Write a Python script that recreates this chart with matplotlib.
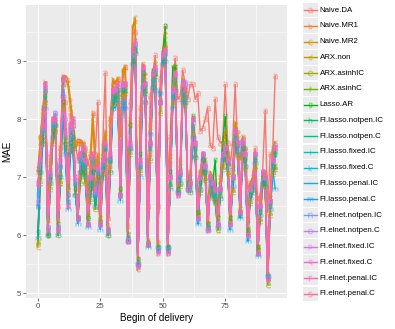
import numpy as np
import matplotlib
matplotlib.use("Agg")
import matplotlib.pyplot as plt
from matplotlib.patches import Rectangle

plt.rcParams['font.family'] = ['Liberation Sans', 'DejaVu Sans']

# begin of delivery (quarter hours)
hours = np.arange(96)

names = ["Naive.DA", "Naive.MR1", "Naive.MR2", "ARX.non", "ARX.asinhIC", "ARX.asinhC",
         "Lasso.AR", "FI.lasso.notpen.IC", "FI.lasso.notpen.C", "FI.lasso.fixed.IC",
         "FI.lasso.fixed.C", "FI.lasso.penal.IC", "FI.lasso.penal.C", "FI.elnet.notpen.IC",
         "FI.elnet.notpen.C", "FI.elnet.fixed.IC", "FI.elnet.fixed.C", "FI.elnet.penal.IC",
         "FI.elnet.penal.C"]

naive_da = [7.15, 7.6, 8.2, 8.5, 6.6, 7.4, 8.0, 7.9, 6.5, 7.5, 8.6, 8.3,
            7.0, 8.1, 7.9, 7.6, 7.3, 7.6, 7.6, 7.5, 7.2, 7.4, 8.1, 7.4,
            8.3, 6.6, 7.6, 8.8, 6.3, 8.0, 8.6, 8.4, 8.7, 7.8, 8.7, 8.9,
            6.9, 8.3, 9.5, 9.5, 5.6, 8.2, 8.9, 8.3, 6.5, 8.4, 8.7, 9.1,
            6.5, 8.7, 9.2, 9.6, 7.0, 7.7, 8.7, 9.05, 8.35, 8.4, 8.85, 8.6,
            8.35, 8.6, 8.6, 8.35, 8.45, 7.8, 7.85, 8.0, 8.2, 7.55, 7.5, 8.35,
            7.7, 7.6, 7.6, 8.6, 7.6, 7.2, 7.6, 8.6, 7.5, 7.3, 7.7, 7.5,
            6.8, 6.9, 7.0, 7.5, 6.6, 6.7, 7.1, 8.15, 6.4, 7.4, 7.4, 8.75]
naive_mr1 = [7.1, 7.7, 8.2, 8.65, 6.3, 7.3, 8.0, 8.0, 6.3, 7.5, 8.75, 8.75,
             8.7, 8.35, 8.0, 7.6, 7.65, 7.65, 7.6, 7.5, 6.7, 7.2, 8.1, 7.2,
             7.4, 6.4, 7.5, 7.8, 6.2, 8.0, 8.7, 8.6, 8.7, 7.8, 8.8, 8.9,
             6.2, 8.0, 9.55, 9.7, 5.45, 8.0, 8.95, 8.8, 5.9, 7.9, 8.8, 9.0,
             5.9, 8.5, 9.15, 9.5, 5.8, 7.4, 8.6, 8.9, 6.8, 7.3, 8.7, 8.5,
             6.9, 7.1, 8.05, 7.6, 6.4, 7.1, 7.4, 7.3, 6.3, 7.1, 7.0, 6.8,
             6.4, 7.0, 7.6, 7.8, 7.4, 6.4, 7.2, 7.95, 7.8, 6.5, 7.7, 7.5,
             6.3, 6.9, 7.0, 7.4, 5.8, 6.6, 7.0, 7.1, 5.35, 6.7, 7.5, 7.6]
naive_mr2 = [5.8, 7.7, 8.1, 8.6, 6.2, 7.2, 8.0, 8.05, 6.2, 7.4, 8.7, 8.7,
             8.6, 8.2, 7.9, 7.5, 7.6, 7.6, 7.55, 7.4, 6.6, 7.1, 8.0, 7.1,
             7.3, 6.3, 7.4, 7.7, 6.1, 7.9, 8.6, 8.65, 8.7, 7.7, 8.85, 8.9,
             6.1, 7.9, 9.6, 9.75, 5.42, 7.9, 8.95, 8.75, 5.85, 7.8, 8.75, 8.95,
             5.85, 8.4, 9.1, 9.45, 5.75, 7.3, 8.55, 8.9, 6.8, 7.2, 8.65, 8.5,
             6.85, 7.0, 8.0, 7.6, 6.35, 7.1, 7.35, 7.3, 6.2, 7.0, 7.0, 6.75,
             6.3, 6.9, 7.55, 7.75, 7.4, 6.3, 7.1, 7.9, 7.75, 6.45, 7.65, 7.45,
             6.2, 6.85, 6.95, 7.35, 5.75, 6.6, 7.0, 7.05, 5.3, 6.65, 7.45, 7.6]
arx_non = [5.9, 7.0, 7.6, 8.3, 6.0, 6.9, 7.7, 7.8, 6.1, 6.9, 8.2, 7.7,
           6.9, 7.5, 7.6, 6.8, 6.3, 7.0, 7.2, 7.0, 6.4, 6.7, 7.0, 6.5,
           7.0, 6.3, 7.1, 7.3, 6.0, 7.2, 8.3, 8.3, 8.4, 6.8, 8.4, 8.5,
           5.95, 7.5, 9.0, 9.2, 5.5, 7.2, 8.7, 8.5, 5.9, 7.4, 8.6, 8.8,
           5.8, 8.2, 9.0, 9.3, 5.8, 6.9, 8.3, 8.6, 6.8, 6.9, 8.4, 8.3,
           6.9, 6.8, 7.8, 7.4, 6.4, 6.8, 7.2, 7.0, 6.2, 6.8, 6.7, 6.6,
           6.1, 6.7, 7.2, 7.4, 7.1, 6.3, 6.8, 7.6, 7.4, 6.4, 7.4, 7.2,
           6.1, 6.6, 6.8, 7.2, 5.8, 6.3, 6.9, 6.9, 5.2, 6.4, 7.1, 7.2]
arx_asinh_ic = [5.85, 6.9, 7.6, 8.3, 6.0, 6.8, 7.6, 7.8, 6.0, 6.9, 8.2, 7.6,
                6.8, 7.4, 7.5, 6.7, 6.3, 6.9, 7.1, 6.9, 6.3, 6.6, 6.9, 6.45,
                6.9, 6.25, 7.0, 7.2, 6.0, 7.1, 8.2, 8.3, 8.4, 6.7, 8.4, 8.45,
                5.9, 7.4, 8.95, 9.15, 5.5, 7.1, 8.65, 8.45, 5.85, 7.3, 8.55, 8.75,
                5.75, 8.1, 8.95, 9.25, 5.75, 6.85, 8.25, 8.55, 6.75, 6.85, 8.35, 8.25,
                6.85, 6.75, 7.75, 7.35, 6.35, 6.75, 7.1, 6.95, 6.15, 6.75, 6.65, 6.55,
                6.1, 6.65, 7.15, 7.35, 7.05, 6.25, 6.75, 7.55, 7.35, 6.35, 7.35, 7.15,
                6.05, 6.55, 6.75, 7.15, 5.75, 6.25, 6.85, 6.85, 5.15, 6.35, 7.05, 7.15]
arx_asinh_c = [5.95, 6.95, 7.65, 8.35, 6.05, 6.85, 7.65, 7.85, 6.05, 6.95, 8.25, 7.65,
               6.85, 7.45, 7.55, 6.75, 6.3, 6.95, 7.15, 6.95, 6.35, 6.65, 6.95, 6.5,
               6.95, 6.3, 7.05, 7.25, 6.05, 7.15, 8.25, 8.35, 8.45, 6.75, 8.45, 8.5,
               5.95, 7.45, 9.0, 9.2, 5.55, 7.15, 8.7, 8.5, 5.9, 7.35, 8.6, 8.8,
               5.8, 8.15, 9.0, 9.3, 5.8, 6.9, 8.3, 8.6, 6.8, 6.9, 8.4, 8.3,
               6.9, 6.8, 7.8, 7.4, 6.4, 6.8, 7.15, 7.0, 6.2, 6.8, 6.7, 6.6,
               6.15, 6.7, 7.2, 7.4, 7.1, 6.3, 6.8, 7.6, 7.4, 6.4, 7.4, 7.2,
               6.1, 6.6, 6.8, 7.2, 5.8, 6.3, 6.9, 6.9, 5.2, 6.4, 7.1, 7.2]
lasso_ar = [6.05, 7.1, 7.7, 8.4, 6.0, 7.0, 7.8, 7.9, 6.2, 7.0, 8.3, 7.5,
            6.7, 7.6, 7.7, 6.8, 6.3, 7.1, 7.3, 7.1, 6.3, 6.8, 7.1, 6.6,
            7.0, 6.2, 7.2, 7.5, 6.1, 7.3, 8.3, 8.4, 8.5, 6.8, 8.5, 8.6,
            6.0, 7.9, 9.0, 9.2, 5.6, 7.4, 8.8, 8.6, 5.85, 7.6, 8.85, 8.8,
            5.8, 8.3, 9.1, 9.6, 5.8, 7.1, 8.9, 8.9, 6.8, 7.1, 8.55, 8.5,
            6.9, 6.9, 8.05, 7.5, 6.4, 6.9, 7.3, 7.1, 6.2, 7.0, 6.9, 7.3,
            6.3, 6.8, 7.6, 8.05, 7.3, 6.3, 7.0, 7.8, 7.6, 6.4, 7.5, 7.3,
            6.1, 6.7, 6.9, 7.3, 5.8, 6.4, 6.9, 7.0, 5.25, 6.5, 7.2, 7.4]
lasso_notpen_ic = [6.5, 7.2, 7.8, 8.5, 6.1, 7.0, 7.9, 8.0, 6.1, 7.1, 8.6, 7.6,
                   6.6, 7.7, 7.8, 6.9, 6.3, 7.3, 7.4, 7.2, 6.2, 6.9, 7.3, 6.7,
                   7.1, 6.2, 7.2, 7.5, 6.1, 7.3, 8.4, 8.35, 8.5, 6.7, 8.5, 8.5,
                   5.9, 7.5, 9.1, 9.25, 5.5, 7.2, 8.8, 8.5, 5.85, 7.5, 8.7, 8.8,
                   5.75, 8.3, 9.05, 9.15, 5.75, 6.9, 8.4, 8.7, 6.75, 7.0, 8.5, 8.4,
                   6.8, 6.85, 7.9, 7.5, 6.3, 6.95, 7.35, 7.15, 6.15, 6.95, 6.85, 6.7,
                   6.2, 6.75, 7.35, 7.45, 7.25, 6.2, 6.95, 7.7, 7.55, 6.35, 7.55, 7.35,
                   6.0, 6.75, 6.85, 7.35, 5.7, 6.45, 7.05, 6.95, 5.3, 6.55, 7.25, 7.45]
lasso_notpen_c = [6.6, 7.25, 7.85, 8.5, 6.15, 7.05, 7.95, 7.95, 6.15, 7.15, 8.6, 7.7,
                  6.7, 7.75, 7.85, 6.95, 6.3, 7.3, 7.45, 7.25, 6.25, 6.95, 7.3, 6.75,
                  7.15, 6.25, 7.25, 7.5, 6.1, 7.3, 8.4, 8.4, 8.45, 6.75, 8.5, 8.5,
                  5.95, 7.5, 9.1, 9.2, 5.5, 7.25, 8.8, 8.55, 5.9, 7.5, 8.7, 8.8,
                  5.75, 8.25, 9.05, 9.15, 5.75, 6.95, 8.45, 8.7, 6.75, 7.0, 8.5, 8.45,
                  6.8, 6.85, 7.95, 7.5, 6.3, 6.95, 7.35, 7.15, 6.15, 6.95, 6.85, 6.75,
                  6.2, 6.75, 7.35, 7.5, 7.25, 6.2, 6.95, 7.75, 7.55, 6.4, 7.55, 7.35,
                  6.0, 6.75, 6.85, 7.35, 5.7, 6.45, 7.05, 6.95, 5.3, 6.55, 7.25, 7.45]
lasso_fixed_ic = [6.8, 7.3, 7.8, 8.4, 6.1, 7.1, 7.9, 8.1, 6.1, 7.2, 8.5, 7.5,
                  6.6, 7.6, 7.7, 6.9, 6.3, 7.3, 7.4, 7.2, 6.2, 6.9, 7.3, 6.7,
                  7.1, 6.2, 7.2, 7.5, 6.1, 7.3, 8.35, 8.35, 8.4, 6.7, 8.3, 8.3,
                  5.95, 7.4, 9.0, 9.2, 5.5, 7.2, 8.7, 8.45, 5.85, 7.5, 8.65, 8.7,
                  5.75, 8.45, 9.0, 9.1, 5.75, 6.9, 8.4, 8.65, 6.75, 7.0, 8.45, 8.4,
                  6.8, 6.85, 7.85, 7.45, 6.25, 6.9, 7.4, 7.2, 6.15, 6.95, 6.8, 6.7,
                  6.2, 6.75, 7.4, 7.5, 7.25, 6.15, 6.95, 7.7, 7.5, 6.35, 7.55, 7.3,
                  5.95, 6.75, 6.85, 7.35, 5.7, 6.45, 7.0, 6.95, 5.3, 6.55, 7.25, 7.4]
lasso_fixed_c = [6.7, 7.3, 7.8, 8.4, 6.1, 7.1, 7.9, 8.05, 6.1, 7.2, 8.5, 7.5,
                 6.6, 7.6, 7.7, 6.9, 6.3, 7.3, 7.4, 7.2, 6.2, 6.9, 7.25, 6.7,
                 7.1, 6.2, 7.2, 7.5, 6.1, 7.3, 8.35, 8.35, 8.4, 6.7, 8.3, 8.3,
                 5.95, 7.8, 9.05, 9.25, 5.5, 7.2, 8.7, 8.45, 5.85, 7.5, 8.65, 8.7,
                 5.75, 8.45, 9.0, 9.1, 5.75, 6.9, 8.4, 8.65, 6.75, 7.0, 8.45, 8.4,
                 6.8, 6.85, 7.85, 7.45, 6.25, 6.9, 7.4, 7.2, 6.15, 6.95, 6.8, 6.7,
                 6.2, 6.75, 7.4, 7.5, 7.25, 6.15, 6.95, 7.7, 7.5, 6.35, 7.55, 7.3,
                 5.95, 6.75, 6.85, 7.35, 5.7, 6.45, 7.0, 6.95, 5.3, 6.55, 7.25, 7.4]
lasso_penal_ic = [6.75, 7.2, 7.7, 8.3, 6.05, 7.0, 7.8, 8.0, 6.05, 7.1, 8.45, 7.4,
                  6.5, 7.5, 7.6, 6.8, 6.25, 7.2, 7.3, 7.1, 6.15, 6.8, 7.2, 6.6,
                  7.0, 6.15, 7.1, 7.4, 6.05, 7.2, 8.3, 8.3, 8.35, 6.65, 8.25, 8.3,
                  5.9, 7.7, 9.0, 9.2, 5.5, 7.1, 8.6, 8.4, 5.85, 7.7, 8.6, 8.6,
                  5.8, 8.45, 9.0, 9.05, 5.8, 6.9, 8.3, 8.6, 6.75, 6.95, 8.4, 8.35,
                  6.8, 6.8, 7.8, 7.4, 6.2, 6.85, 7.35, 7.15, 6.1, 6.9, 6.75, 6.65,
                  6.15, 6.7, 7.35, 7.45, 7.2, 6.1, 6.9, 7.65, 7.45, 6.3, 7.5, 7.25,
                  5.9, 6.7, 6.8, 7.3, 5.65, 6.4, 6.95, 6.9, 5.3, 6.5, 7.2, 7.35]
lasso_penal_c = [5.95, 7.1, 7.6, 8.2, 6.0, 6.9, 7.7, 7.9, 6.0, 7.0, 8.4, 7.4,
                 6.45, 7.4, 7.5, 6.7, 6.2, 7.1, 7.2, 7.0, 6.15, 6.7, 7.1, 6.5,
                 6.9, 6.1, 7.0, 7.3, 6.0, 7.1, 8.2, 8.2, 8.3, 6.6, 8.2, 8.2,
                 5.9, 7.5, 8.95, 9.15, 5.5, 7.0, 8.55, 8.3, 5.8, 7.75, 8.55, 8.5,
                 5.8, 8.45, 8.95, 9.0, 5.8, 6.8, 8.2, 8.5, 6.75, 6.9, 8.3, 8.3,
                 6.8, 6.75, 7.7, 7.35, 6.2, 6.8, 7.3, 7.1, 6.1, 6.85, 6.7, 6.6,
                 6.15, 6.65, 7.3, 7.4, 7.15, 6.1, 6.85, 7.6, 7.4, 6.3, 7.45, 7.2,
                 5.9, 6.65, 6.75, 7.25, 5.65, 6.35, 6.9, 6.85, 5.3, 6.45, 7.15, 6.8]
elnet_notpen_ic = [6.5, 7.2, 7.8, 8.5, 6.15, 7.0, 7.9, 8.1, 6.15, 7.2, 8.7, 7.7,
                   6.6, 7.8, 7.9, 6.9, 6.3, 7.3, 7.5, 7.3, 6.2, 7.0, 7.3, 6.7,
                   7.1, 6.2, 7.2, 7.5, 6.1, 7.3, 8.5, 8.45, 8.5, 6.7, 8.55, 8.55,
                   5.95, 7.5, 9.1, 9.3, 5.5, 7.2, 8.85, 8.55, 5.85, 7.55, 8.75, 8.85,
                   5.75, 8.3, 9.1, 9.15, 5.75, 7.0, 8.45, 8.75, 6.75, 7.05, 8.6, 8.65,
                   6.8, 6.9, 7.95, 7.55, 6.3, 7.0, 7.4, 7.2, 6.15, 7.0, 6.9, 6.75,
                   6.2, 6.8, 7.4, 7.5, 7.3, 6.2, 7.0, 7.8, 7.6, 6.4, 7.6, 7.4,
                   6.0, 6.8, 6.9, 7.4, 5.7, 6.5, 7.1, 7.0, 5.3, 6.6, 7.3, 7.5]
elnet_notpen_c = [6.6, 7.25, 7.85, 8.55, 6.15, 7.05, 7.95, 8.1, 6.15, 7.2, 8.7, 8.0,
                  6.7, 7.85, 7.95, 6.95, 6.3, 7.35, 7.5, 7.3, 6.2, 7.0, 7.35, 6.75,
                  7.15, 6.2, 7.25, 7.55, 6.1, 7.35, 8.5, 8.5, 8.55, 6.7, 8.6, 8.6,
                  5.9, 7.55, 9.15, 9.3, 5.5, 7.25, 8.85, 8.6, 5.85, 7.6, 8.8, 8.85,
                  5.75, 8.3, 9.1, 9.2, 5.7, 7.0, 8.5, 8.8, 6.7, 7.05, 8.65, 8.6,
                  6.8, 6.9, 8.0, 7.6, 6.3, 7.0, 7.4, 7.2, 6.1, 7.0, 6.9, 6.8,
                  6.2, 6.8, 7.4, 7.5, 7.3, 6.2, 7.0, 7.8, 7.65, 6.4, 7.65, 7.4,
                  6.0, 6.8, 6.9, 7.4, 5.7, 6.5, 7.1, 7.0, 5.25, 6.6, 7.3, 7.55]
elnet_fixed_ic = [6.9, 7.3, 7.9, 8.6, 6.1, 7.1, 8.0, 8.05, 6.1, 7.3, 8.7, 7.8,
                  6.5, 7.9, 8.0, 7.0, 6.3, 7.4, 7.5, 7.3, 6.2, 7.0, 7.4, 6.8,
                  7.2, 6.2, 7.3, 7.6, 6.1, 7.4, 8.5, 8.5, 8.6, 6.7, 8.6, 8.6,
                  5.9, 7.6, 9.2, 9.35, 5.45, 7.3, 8.9, 8.6, 5.85, 7.6, 8.8, 8.9,
                  5.7, 8.3, 9.1, 9.2, 5.7, 7.0, 8.5, 8.8, 6.7, 7.1, 8.6, 8.55,
                  6.8, 6.9, 8.0, 7.6, 6.3, 7.0, 7.4, 7.2, 6.1, 7.0, 6.9, 6.8,
                  6.2, 6.8, 7.4, 7.5, 7.3, 6.2, 7.0, 7.8, 7.6, 6.4, 7.6, 7.4,
                  6.0, 6.8, 6.9, 7.4, 5.7, 6.5, 7.1, 7.0, 5.25, 6.6, 7.3, 7.5]
elnet_fixed_c = [6.85, 7.3, 7.9, 8.6, 6.1, 7.1, 8.0, 8.0, 6.1, 7.3, 8.7, 7.75,
                 6.5, 7.9, 8.0, 7.0, 6.3, 7.4, 7.5, 7.3, 6.2, 7.0, 7.4, 6.75,
                 7.2, 6.2, 7.3, 7.6, 6.1, 7.4, 8.5, 8.5, 8.6, 6.7, 8.6, 8.6,
                 5.9, 7.6, 9.2, 9.3, 5.45, 7.3, 8.9, 8.6, 5.85, 7.6, 8.8, 8.9,
                 5.7, 8.3, 9.1, 9.2, 5.7, 7.0, 8.5, 8.8, 6.7, 7.1, 8.6, 8.5,
                 6.8, 6.9, 8.0, 7.6, 6.3, 7.0, 7.4, 7.2, 6.1, 7.0, 6.9, 6.8,
                 6.2, 6.8, 7.4, 7.5, 7.3, 6.2, 7.0, 7.8, 7.6, 6.4, 7.6, 7.4,
                 6.0, 6.8, 6.9, 7.4, 5.7, 6.5, 7.1, 7.0, 5.25, 6.6, 7.3, 7.5]
elnet_penal_ic = [6.9, 7.3, 7.9, 8.6, 6.1, 7.1, 8.0, 8.0, 6.1, 7.3, 8.7, 7.8,
                  6.5, 7.9, 8.0, 7.0, 6.3, 7.4, 7.5, 7.3, 6.2, 7.0, 7.4, 6.8,
                  7.2, 6.2, 7.3, 7.6, 6.1, 7.4, 8.5, 8.5, 8.6, 6.7, 8.6, 8.6,
                  5.9, 7.6, 9.2, 9.35, 5.45, 7.3, 8.9, 8.6, 5.85, 7.6, 8.8, 8.9,
                  5.7, 8.3, 9.1, 9.2, 5.7, 7.0, 8.5, 8.8, 6.7, 7.1, 8.6, 8.5,
                  6.8, 6.9, 8.0, 7.6, 6.3, 7.0, 7.4, 7.2, 6.1, 7.0, 6.9, 6.8,
                  6.2, 6.8, 7.4, 7.5, 7.3, 6.2, 7.0, 7.8, 7.6, 6.4, 7.6, 7.4,
                  6.0, 6.8, 6.9, 7.4, 5.7, 6.5, 7.1, 7.0, 5.25, 6.6, 7.3, 7.5]
elnet_penal_c = [6.9, 7.3, 7.9, 8.6, 6.1, 7.1, 8.0, 8.0, 6.1, 7.3, 8.7, 7.8,
                 6.5, 7.9, 8.0, 7.0, 6.3, 7.4, 7.5, 7.3, 6.2, 7.0, 7.4, 6.8,
                 7.2, 6.2, 7.3, 7.6, 6.1, 7.4, 8.5, 8.5, 8.6, 6.7, 8.6, 8.6,
                 5.9, 7.6, 9.2, 9.35, 5.45, 7.3, 8.9, 8.6, 5.85, 7.6, 8.8, 8.9,
                 5.7, 8.3, 9.1, 9.2, 5.7, 7.0, 8.5, 8.8, 6.7, 7.1, 8.6, 8.5,
                 6.8, 6.9, 8.0, 7.6, 6.3, 7.0, 7.4, 7.2, 6.1, 7.0, 6.9, 6.8,
                 6.2, 6.8, 7.4, 7.5, 7.3, 6.2, 7.0, 7.8, 7.6, 6.4, 7.6, 7.4,
                 6.0, 6.8, 6.9, 7.4, 5.7, 6.5, 7.1, 7.0, 5.25, 6.6, 7.3, 7.5]

series = [naive_da, naive_mr1, naive_mr2, arx_non, arx_asinh_ic, arx_asinh_c, lasso_ar,
          lasso_notpen_ic, lasso_notpen_c, lasso_fixed_ic, lasso_fixed_c, lasso_penal_ic,
          lasso_penal_c, elnet_notpen_ic, elnet_notpen_c, elnet_fixed_ic, elnet_fixed_c,
          elnet_penal_ic, elnet_penal_c]
letters = "abcdefghijklmnopqrs"


def hcl(h, c=100.0, l=65.0):
    # ggplot hue palette colour (polar LUV -> sRGB)
    xn, yn, zn = 95.047, 100.0, 108.883
    un = 4 * xn / (xn + 15 * yn + 3 * zn)
    vn = 9 * yn / (xn + 15 * yn + 3 * zn)
    u = c * np.cos(np.radians(h))
    v = c * np.sin(np.radians(h))
    Y = yn * ((l + 16) / 116) ** 3
    up = u / (13 * l) + un
    vp = v / (13 * l) + vn
    X = 9.0 * Y * up / (4 * vp)
    Z = -X / 3 - 5 * Y + 3 * Y / vp
    X, Y, Z = X / 100, Y / 100, Z / 100
    rgb = [3.240479 * X - 1.537150 * Y - 0.498535 * Z,
           -0.969256 * X + 1.875992 * Y + 0.041556 * Z,
           0.055648 * X - 0.204043 * Y + 1.057311 * Z]
    out = []
    for ch in rgb:
        ch = 12.92 * ch if ch <= 0.0031308 else 1.055 * ch ** (1 / 2.4) - 0.055
        out.append(min(max(ch, 0), 1))
    return tuple(out)


n = len(names)
colors = [hcl(15 + 360.0 * i / n) for i in range(n)]

fig = plt.figure(figsize=(3.95, 3.29), dpi=100)
ax = fig.add_axes([26 / 395, 31 / 329, 261 / 395, 293 / 329])
ax.set_facecolor('#EBEBEB')

for i in range(n):
    ax.plot(hours, series[i], color=colors[i], lw=1.0, zorder=2)
for i in range(n):
    ax.plot(hours, series[i], ls='none', marker='$\\mathrm{%s}$' % letters[i],
            ms=4.0, mew=0.1, color=colors[i], alpha=0.6, zorder=3)

ax.set_xlim(-4.75, 99.75)
ax.set_ylim(4.92, 9.97)
ax.set_xticks([0, 25, 50, 75])
ax.set_yticks([5, 6, 7, 8, 9])
ax.set_xticks([12.5, 37.5, 62.5, 87.5], minor=True)
ax.set_yticks([5.5, 6.5, 7.5, 8.5, 9.5], minor=True)
ax.grid(which='major', color='white', lw=0.8)
ax.grid(which='minor', color='white', lw=0.4)
ax.set_axisbelow(True)
for s in ax.spines.values():
    s.set_visible(False)
ax.tick_params(which='major', length=2.0, width=0.5, color='#333333',
               labelsize=5.7, labelcolor='#4D4D4D', pad=1.5)
ax.tick_params(which='minor', length=0)
ax.set_xlabel('Begin of delivery', fontsize=7.1, labelpad=2)
ax.set_ylabel('MAE', fontsize=7.1, labelpad=3)

# legend drawn in pixel coordinates
lax = fig.add_axes([0, 0, 1, 1])
lax.set_xlim(0, 395)
lax.set_ylim(329, 0)
lax.axis('off')
for i in range(n):
    yc = 10 + i * 15.77
    lax.add_patch(Rectangle((302.5, yc - 7.3), 15, 14.6, fc='#EBEBEB', ec='none'))
    lax.plot([303.5, 316.5], [yc, yc], color=colors[i], lw=1.0)
    lax.plot([310], [yc], marker='$\\mathrm{%s}$' % letters[i], ms=4.0, mew=0.1,
             color=colors[i], alpha=0.6)
    lax.text(319.5, yc, names[i], fontsize=5.7, va='center', ha='left', color='black')

fig.savefig('out.png', dpi=100)
